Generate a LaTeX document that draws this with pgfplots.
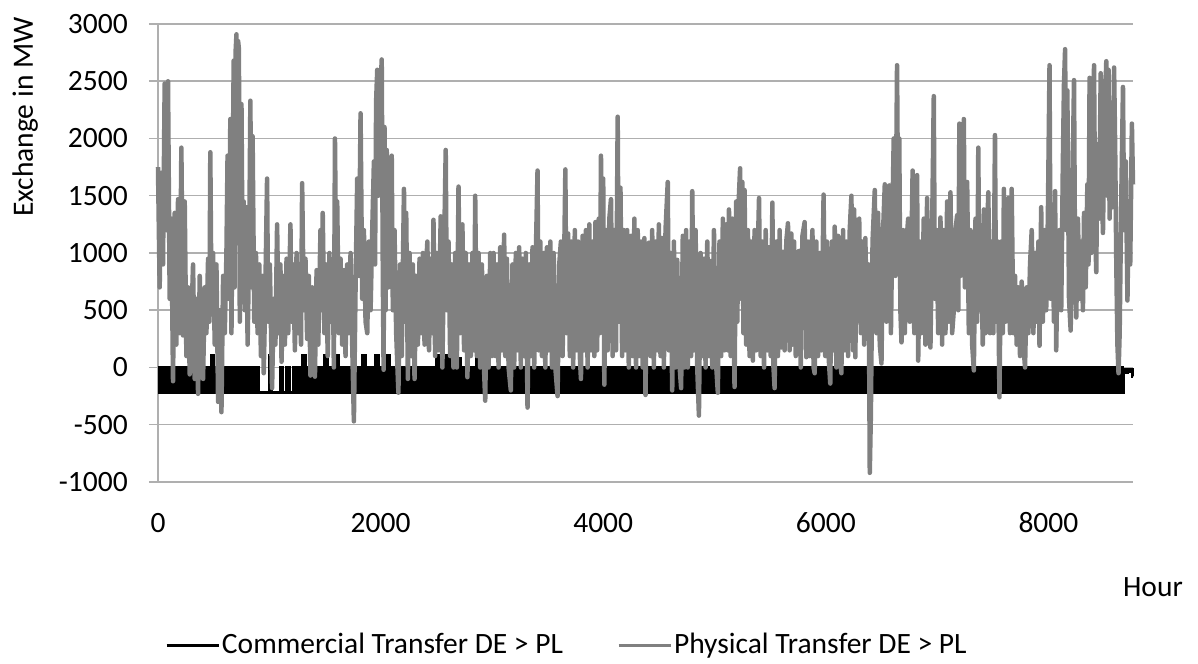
\documentclass[border=0pt]{standalone}
\usepackage{pgfplots}
\pgfplotsset{compat=1.18}
\usepackage{fontspec}
\setmainfont{Carlito}
\definecolor{physgray}{RGB}{128,128,128}
\definecolor{gridgray}{RGB}{175,175,175}
\begin{document}
\fontsize{29.5bp}{35bp}\selectfont
\begin{tikzpicture}
\begin{axis}[
  scale only axis, width=975bp, height=458bp,
  xmin=0, xmax=8760, ymin=-1000, ymax=3000,
  axis lines*=left, axis line style={draw=gridgray, line width=1.5bp, -},
  ymajorgrids, grid style={draw=gridgray, line width=1.5bp},
  xtick={0,2000,4000,6000,8000}, xticklabels={0,2000,4000,6000,8000},
  ytick={-1000,-500,0,500,1000,1500,2000,2500,3000},
  yticklabels={-1000,-500,0,500,1000,1500,2000,2500,3000},
  tick align=outside, major tick length=9bp,
  ytick style={draw=gridgray, line width=1.5bp},
  xtick style={draw=none},
  xticklabel style={anchor=base, inner sep=0pt, yshift=-41bp},
  yticklabel style={anchor=east, inner sep=0pt, xshift=-21bp},
  clip=false,
  legend columns=2,
  legend style={at={(rel axis cs:0.00718,-0.3559)}, anchor=west, draw=none, fill=none,
    inner sep=0pt, outer sep=0pt, nodes={inner sep=2bp},
    /tikz/every even column/.append style={column sep=52bp}},
  legend image code/.code={\draw[#1, line width=3bp] (0bp,0bp) -- (52bp,0bp);},
]
\addplot[black, line width=3.5bp, const plot, line join=miter] coordinates {
(0,0)(20,-220)(40,0)(60,-220)(80,0)(100,-220)(120,0)(140,-220)(160,0)(180,-220)
(200,0)(220,-220)(240,0)(260,-220)(280,0)(300,-220)(320,0)(340,-220)(360,0)(380,-220)
(400,0)(420,-220)(440,0)(460,-220)(480,100)(500,-220)(520,0)(540,-220)(560,0)(580,-220)
(600,0)(620,-220)(640,0)(660,-220)(680,0)(700,-220)(720,0)(740,-220)(760,0)(780,-220)
(800,0)(820,-220)(840,0)(860,-220)(880,0)(900,-220)(920,-220)(940,-220)(960,-220)(980,-220)
(1000,100)(1020,-220)(1040,-220)(1060,-220)(1080,-220)(1100,0)(1120,-220)(1140,-220)(1160,0)(1180,-220)
(1200,-220)(1220,0)(1240,-220)(1260,0)(1280,-220)(1300,100)(1320,-220)(1340,0)(1360,-220)(1380,0)
(1400,-220)(1420,0)(1440,-220)(1460,0)(1480,-220)(1500,100)(1520,-220)(1540,0)(1560,-220)(1580,0)
(1600,-220)(1610,100)(1620,-220)(1640,0)(1660,-220)(1680,0)(1700,-220)(1720,0)(1740,-220)(1760,0)(1780,-220)
(1800,0)(1820,-220)(1840,100)(1860,-220)(1880,0)(1900,-220)(1920,0)(1940,-220)(1960,100)(1980,-220)
(2000,0)(2020,-220)(2040,0)(2050,-220)(2060,100)(2080,-220)(2100,0)(2120,-220)(2140,0)(2160,-220)(2180,0)
(2200,-220)(2220,0)(2240,-220)(2260,0)(2280,-220)(2300,0)(2320,-220)(2340,0)(2360,-220)(2380,0)
(2400,-220)(2420,0)(2440,-220)(2460,0)(2480,-220)(2500,100)(2520,-220)(2540,100)(2560,-220)(2580,100)
(2600,-220)(2620,100)(2640,-220)(2660,0)(2680,-220)(2700,80)(2720,-220)(2740,0)(2760,-220)(2780,0)
(2800,-220)(2820,0)(2840,-220)(2860,100)(2880,-220)(2900,0)(2920,-220)(2940,0)(2960,-220)(2980,0)
(3000,-220)(3020,0)(3040,-220)(3060,0)(3080,-220)(3100,0)(3120,-220)(3140,0)(3160,-220)(3180,0)
(3200,-220)(3220,0)(3240,-220)(3260,0)(3280,-220)(3300,0)(3320,-220)(3340,0)(3360,-220)(3380,0)
(3400,-220)(3420,0)(3440,-220)(3460,0)(3480,-220)(3500,0)(3520,-220)(3540,0)(3560,-220)(3580,0)
(3600,-220)(3620,0)(3640,-220)(3660,0)(3680,-220)(3700,0)(3720,-220)(3740,0)(3760,-220)(3780,0)
(3800,-220)(3820,0)(3840,-220)(3860,0)(3880,-220)(3900,0)(3920,-220)(3940,0)(3960,-220)(3980,0)
(4000,-220)(4020,0)(4040,-220)(4060,0)(4080,-220)(4100,0)(4120,-220)(4140,0)(4160,-220)(4180,0)
(4200,-220)(4220,0)(4240,-220)(4260,0)(4280,-220)(4300,0)(4320,-220)(4340,0)(4360,-220)(4380,0)
(4400,-220)(4420,0)(4440,-220)(4460,0)(4480,-220)(4500,0)(4520,-220)(4540,0)(4560,-220)(4580,0)
(4600,-220)(4620,0)(4640,-220)(4660,0)(4680,-220)(4700,0)(4720,-220)(4740,0)(4760,-220)(4780,0)
(4800,-220)(4820,0)(4840,-220)(4860,0)(4880,-220)(4900,0)(4920,-220)(4940,0)(4960,-220)(4980,0)
(5000,-220)(5020,0)(5040,-220)(5060,0)(5080,-220)(5100,0)(5120,-220)(5140,0)(5160,-220)(5180,0)
(5200,-220)(5220,0)(5240,-220)(5260,0)(5280,-220)(5300,0)(5320,-220)(5340,0)(5360,-220)(5380,0)
(5400,-220)(5420,0)(5440,-220)(5460,0)(5480,-220)(5500,0)(5520,-220)(5540,0)(5560,-220)(5580,0)
(5600,-220)(5620,0)(5640,-220)(5660,0)(5680,-220)(5700,0)(5720,-220)(5740,0)(5760,-220)(5780,0)
(5800,-220)(5820,0)(5840,-220)(5860,0)(5880,-220)(5900,0)(5920,-220)(5940,0)(5960,-220)(5980,0)
(6000,-220)(6020,0)(6040,-220)(6060,0)(6080,-220)(6100,0)(6120,-220)(6140,0)(6160,-220)(6180,0)
(6200,-220)(6220,0)(6240,-220)(6260,0)(6280,-220)(6300,0)(6320,-220)(6340,0)(6360,-220)(6380,0)
(6400,-220)(6420,0)(6440,-220)(6460,0)(6480,-220)(6500,0)(6520,-220)(6540,0)(6560,-220)(6580,0)
(6600,-220)(6620,0)(6640,-220)(6660,0)(6680,-220)(6700,0)(6720,-220)(6740,0)(6760,-220)(6780,0)
(6800,-220)(6820,0)(6840,-220)(6860,0)(6880,-220)(6900,0)(6920,-220)(6940,0)(6960,-220)(6980,0)
(7000,-220)(7020,0)(7040,-220)(7060,0)(7080,-220)(7100,0)(7120,-220)(7140,0)(7160,-220)(7180,0)
(7200,-220)(7220,0)(7240,-220)(7260,0)(7280,-220)(7300,0)(7320,-220)(7340,0)(7360,-220)(7380,0)
(7400,-220)(7420,0)(7440,-220)(7460,0)(7480,-220)(7500,0)(7520,-220)(7540,0)(7560,-220)(7580,0)
(7600,-220)(7620,0)(7640,-220)(7660,0)(7680,-220)(7700,0)(7720,-220)(7740,0)(7760,-220)(7780,0)
(7800,-220)(7820,0)(7840,-220)(7860,0)(7880,-220)(7900,0)(7920,-220)(7940,0)(7960,-220)(7980,0)
(8000,-220)(8020,0)(8040,-220)(8060,0)(8080,-220)(8100,0)(8120,-220)(8140,0)(8160,-220)(8180,0)
(8200,-220)(8220,0)(8240,-220)(8260,0)(8280,-220)(8300,0)(8320,-220)(8340,0)(8360,-220)(8380,0)
(8400,-220)(8420,0)(8440,-220)(8460,0)(8480,-220)(8500,0)(8520,-220)(8540,0)(8560,-220)(8580,0)
(8600,-220)(8620,0)(8640,-220)(8650,0)(8665,-220)(8675,-20)(8690,-40)(8710,-20)(8730,-30)(8750,-20)(8755,-80)(8760,-80)
};
\addlegendentry{Commercial Transfer DE > PL}
\addplot[physgray, line width=4.5bp, line join=round] coordinates {
(0,1750)(15,700)(30,1700)(45,900)(60,2480)(75,1200)(90,2500)(105,600)(120,1300)(135,-120)(150,1350)(165,200)(180,1470)(195,300)(210,1920)(225,280)(240,1450)(255,100)(270,700)(285,-60)(300,400)
(315,900)(330,-100)(345,600)(360,-230)(375,800)(390,100)(405,-100)(420,700)(435,300)(450,950)(462,400)(470,1880)(480,600)(495,1000)(510,200)(525,900)(540,-300)(555,500)(570,-390)(585,800)(600,300)
(615,1000)(625,1850)(635,600)(650,2170)(660,300)(670,1500)(680,2680)(688,700)(697,2750)(705,2910)(712,1500)(720,2850)(727,2780)(735,400)(742,2200)(750,2300)(760,900)(770,1450)(780,500)(795,1400)(805,200)(820,1100)(830,2330)(840,700)(850,2020)(865,400)(880,1000)(895,300)
(910,900)(925,100)(940,800)(950,-50)(965,700)(980,1650)(990,400)(1005,900)(1025,-180)(1040,600)(1055,200)(1070,1250)(1085,300)(1100,900)(1110,50)(1125,800)(1140,200)(1155,950)(1170,300)(1190,1250)
(1200,400)(1215,900)(1230,150)(1245,1000)(1260,300)(1275,850)(1285,200)(1295,1610)(1310,500)(1325,950)(1340,250)(1355,800)(1370,-70)(1385,700)(1400,300)(1410,-80)(1425,850)(1440,200)(1460,1200)(1470,500)(1480,1350)(1495,300)
(1510,900)(1525,100)(1540,1000)(1555,400)(1570,900)(1580,0)(1590,2000)(1600,900)(1610,1450)(1625,300)(1640,950)(1655,200)(1670,850)(1685,100)(1700,900)(1715,300)(1730,1000)(1745,200)(1760,-470)(1775,700)(1790,1650)
(1805,800)(1820,2220)(1835,600)(1850,1200)(1865,400)(1880,300)(1895,1100)(1910,500)(1925,1200)(1940,1800)(1950,900)(1960,2330)(1970,2600)(1980,1500)(1995,2300)(2010,2690)(2020,800)(2027,-20)(2035,2100)(2045,500)(2055,1900)(2070,700)(2085,1200)(2100,1850)
(2110,500)(2125,1200)(2140,300)(2160,-220)(2175,900)(2190,100)(2202,1000)(2210,1560)(2220,400)(2230,1350)(2245,-100)(2260,1000)(2275,100)(2290,900)(2305,-100)(2320,800)(2335,200)(2350,950)(2365,300)(2380,1000)(2395,200)
(2410,900)(2420,1100)(2435,150)(2450,950)(2465,300)(2475,1290)(2490,100)(2505,1000)(2520,150)(2540,1320)(2555,0)(2570,1000)(2585,1900)(2595,500)(2610,1100)(2625,100)(2640,900)(2655,0)(2670,1000)(2685,0)(2700,1580)
(2715,300)(2735,1250)(2750,150)(2765,1000)(2780,-85)(2795,900)(2810,100)(2825,1000)(2840,150)(2850,1500)(2865,100)(2880,1000)(2895,0)(2910,900)(2925,100)(2940,-290)(2955,800)(2970,0)(2985,1000)(3000,100)
(3015,1000)(3030,100)(3045,900)(3060,0)(3075,1050)(3090,150)(3110,1160)(3120,100)(3135,950)(3150,0)(3170,-200)(3185,900)(3200,0)(3215,1000)(3230,150)(3245,1050)(3260,0)(3275,950)(3290,100)
(3305,1000)(3320,-350)(3335,900)(3350,100)(3365,1050)(3380,0)(3395,1000)(3410,1720)(3420,150)(3435,1100)(3450,100)(3465,1000)(3480,0)(3495,1050)(3510,150)(3525,1100)(3540,0)(3555,1000)(3570,0)(3590,-250)
(3605,900)(3620,1100)(3635,100)(3650,1000)(3660,1730)(3670,300)(3685,1170)(3700,100)(3715,1100)(3730,0)(3745,1200)(3760,150)(3775,1100)(3790,100)(3800,-100)(3815,1150)(3830,150)(3845,1200)(3860,0)(3875,1250)(3890,150)
(3905,1100)(3920,100)(3930,1270)(3945,150)(3960,1300)(3970,300)(3980,1850)(3990,500)(4000,1650)(4010,-150)(4025,1200)(4040,150)(4055,1300)(4070,1470)(4085,100)(4100,1200)(4115,150)(4130,2190)(4140,400)(4155,1570)(4170,100)(4185,1200)(4200,150)
(4215,1200)(4230,0)(4250,1150)(4265,100)(4280,1300)(4295,0)(4310,1200)(4325,100)(4340,1100)(4355,0)(4370,1130)(4380,-240)(4395,1000)(4410,1090)(4425,100)(4440,1200)(4455,0)(4470,1100)(4485,150)(4500,1250)
(4515,100)(4530,1130)(4545,0)(4560,1200)(4580,1620)(4590,150)(4605,1000)(4620,-200)(4635,1100)(4650,0)(4665,940)(4680,100)(4700,-180)(4715,1150)(4730,0)(4745,1200)(4760,0)(4775,1100)(4790,100)(4800,1540)
(4815,150)(4830,1200)(4845,0)(4860,-420)(4875,1000)(4890,100)(4905,950)(4920,0)(4935,1100)(4950,100)(4965,930)(4980,0)(4995,1200)(5010,100)(5030,-220)(5045,1100)(5060,100)(5075,1300)(5090,150)
(5105,1250)(5120,150)(5130,1380)(5145,100)(5160,1300)(5180,-170)(5195,1450)(5205,400)(5215,1400)(5230,1740)(5240,600)(5250,1620)(5260,300)(5270,1550)(5285,200)(5300,1200)(5315,100)(5330,1100)(5345,60)(5360,1200)(5375,150)(5390,1060)(5400,1480)
(5415,100)(5430,1100)(5445,0)(5460,1200)(5475,150)(5490,1050)(5505,100)(5520,1440)(5530,0)(5540,-180)(5555,1100)(5570,100)(5585,1200)(5600,175)(5615,1010)(5630,150)(5645,1100)(5660,1260)(5675,150)(5690,1170)(5700,200)
(5715,1100)(5730,100)(5745,1000)(5760,1020)(5775,0)(5790,1150)(5810,1270)(5825,90)(5840,1100)(5855,100)(5870,1000)(5880,1200)(5890,0)(5900,-50)(5915,1100)(5930,100)(5945,1000)(5960,150)(5980,1510)(5995,100)
(6010,1100)(6025,100)(6040,-140)(6055,1100)(6070,150)(6080,1230)(6095,0)(6110,1150)(6125,100)(6140,-50)(6155,1200)(6170,150)(6185,1100)(6200,100)(6215,1200)(6230,1500)(6245,150)(6255,1380)(6265,90)(6280,1200)(6300,1300)
(6315,300)(6330,1100)(6345,200)(6355,1130)(6370,400)(6385,900)(6395,-920)(6405,-400)(6420,1100)(6440,1550)(6455,300)(6470,1350)(6485,200)(6500,35)(6515,1200)(6530,1600)(6545,400)(6560,1300)(6570,1590)(6585,300)(6600,1400)
(6610,2000)(6625,800)(6640,2640)(6650,1200)(6660,2000)(6670,500)(6680,220)(6695,1200)(6710,300)(6725,1100)(6740,1300)(6755,400)(6770,1100)(6780,1720)(6795,300)(6810,1200)(6820,1680)(6830,60)(6845,1100)(6860,300)(6880,1300)(6895,200)
(6910,1480)(6925,300)(6940,175)(6955,1200)(6970,2370)(6980,600)(6995,1200)(7010,300)(7030,1310)(7045,200)(7060,1200)(7075,300)(7090,1450)(7105,400)(7120,1530)(7135,300)(7150,500)(7165,1200)(7180,1330)(7190,500)(7200,2130)
(7210,800)(7225,1600)(7240,2170)(7250,700)(7270,1620)(7285,300)(7300,1200)(7315,200)(7330,-26)(7345,1300)(7360,400)(7370,1920)(7380,500)(7395,1100)(7410,200)(7420,1380)(7435,300)(7450,1200)(7460,1530)(7475,300)(7490,1100)
(7505,300)(7520,2030)(7530,400)(7545,1100)(7560,-260)(7575,1100)(7590,300)(7600,1560)(7615,400)(7630,1200)(7640,1480)(7655,300)(7670,1560)(7685,300)(7700,800)(7715,200)(7730,700)(7745,100)(7760,750)(7775,200)(7790,0)
(7805,700)(7820,300)(7835,900)(7850,1200)(7865,300)(7880,1000)(7895,400)(7910,1100)(7920,190)(7935,1400)(7950,400)(7965,1200)(7980,500)(7995,1300)(8010,2640)(8020,600)(8035,1300)(8050,400)(8060,1540)(8070,150)(8085,1100)(8100,1200)
(8115,500)(8130,1800)(8140,2480)(8150,2780)(8160,1200)(8170,2420)(8185,600)(8200,323)(8215,1500)(8230,2510)(8240,800)(8250,437)(8265,1300)(8280,600)(8295,1100)(8310,500)(8320,1350)(8335,700)(8350,1600)(8360,900)(8370,2530)(8385,1000)(8400,2000)(8410,2640)
(8420,1200)(8430,833)(8440,1950)(8455,1300)(8470,2570)(8480,1600)(8490,1175)(8505,2200)(8520,2675)(8530,1500)(8540,2600)(8550,1300)(8565,2300)(8575,1400)(8590,2620)(8600,1900)(8610,900)(8620,200)(8630,-50)(8640,300)(8655,1500)(8670,2450)(8680,1200)(8695,1800)(8710,585)(8720,1300)(8735,900)(8750,2130)(8760,1600)
};
\addlegendentry{Physical Transfer DE > PL}
\node[rotate=90, anchor=base, inner sep=0pt] at (rel axis cs:-0.1282,0.7969) {Exchange in MW};
\node[anchor=base east, inner sep=0pt] at (rel axis cs:1.05128,-0.25109) {Hour};
\coordinate (BL) at (rel axis cs:-0.16205,-0.39738);
\coordinate (TR) at (rel axis cs:1.06667,1.05240);
\end{axis}
\pgfresetboundingbox
\path[use as bounding box] (BL) rectangle (TR);
\end{tikzpicture}
\end{document}
